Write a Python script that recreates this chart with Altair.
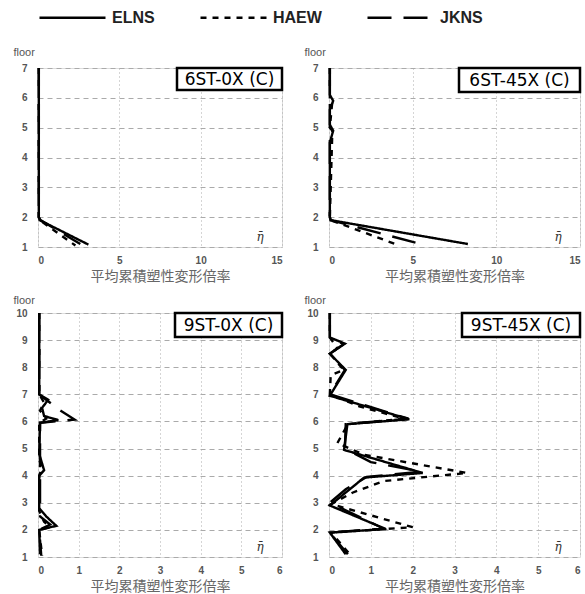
import altair as alt
import pandas as pd

series = ["ELNS", "HAEW", "JKNS"]
dashes = [[1, 0], [6, 6], [24, 12]]
xtitle = "平均累積塑性変形倍率"

# ---- panel 1: 6ST-0X (C)
p1_ELNS_y = [7, 2, 1.9, 1.08]
p1_ELNS_x = [0.05, 0.05, 0.1, 3.1]
p1_HAEW_y = [7, 2, 1.9, 1.05]
p1_HAEW_x = [0.05, 0.05, 0.1, 2.3]
p1_JKNS_y = [7, 2, 1.9, 1.1]
p1_JKNS_x = [0.05, 0.05, 0.15, 2.6]

# ---- panel 2: 6ST-45X (C)
p2_ELNS_y = [7, 6.1, 5.9, 5.6, 5.1, 4.9, 4.5, 2, 1.9, 1.1]
p2_ELNS_x = [0.05, 0.05, 0.25, 0.05, 0.05, 0.25, 0.05, 0.05, 0.1, 8.3]
p2_HAEW_y = [7, 6, 5.9, 5, 4.9, 2, 1.9, 1.05]
p2_HAEW_x = [0.05, 0.05, 0.2, 0.05, 0.2, 0.05, 0.1, 4.2]
p2_JKNS_y = [7, 2, 1.9, 1.05]
p2_JKNS_x = [0.05, 0.05, 0.1, 5.8]

# ---- panel 3: 9ST-0X (C)
p3_ELNS_y = [10, 7.0, 6.8, 6.5, 6.2, 6.05, 5.95, 4.8, 4.2, 4.0, 2.8, 2.5, 2.15, 2.0, 1.1]
p3_ELNS_x = [0.03, 0.03, 0.25, 0.1, 0.15, 0.5, 0.05, 0.03, 0.15, 0.03, 0.03, 0.2, 0.45, 0.03, 0.05]
p3_HAEW_y = [10, 7.0, 6.7, 6.4, 6.1, 5.95, 4.6, 4.3, 4.0, 2.7, 2.3, 2.1, 2.0, 1.05]
p3_HAEW_x = [0.03, 0.03, 0.15, 0.05, 0.2, 0.03, 0.03, 0.1, 0.03, 0.03, 0.15, 0.3, 0.03, 0.1]
p3_JKNS_y = [10, 7.0, 6.8, 6.4, 6.07, 5.95, 2.5, 2.2, 2.0, 1.05]
p3_JKNS_x = [0.03, 0.03, 0.2, 0.55, 0.9, 0.05, 0.05, 0.3, 0.03, 0.08]

# ---- panel 4: 9ST-45X (C)
p4_ELNS_y = [10, 9.1, 8.87, 8.5, 7.9, 6.95, 6.08, 5.9, 4.95, 4.1, 3.93, 2.9, 2.03, 1.9, 1.1]
p4_ELNS_x = [0.02, 0.02, 0.38, 0.02, 0.4, 0.02, 1.92, 0.44, 0.36, 2.24, 0.84, 0.02, 1.36, 0.02, 0.4]
p4_HAEW_y = [10, 9.1, 8.7, 8.5, 7.9, 7.7, 7.0, 6.56, 6.1, 5.9, 5.2, 4.77, 4.1, 3.8, 3.37, 2.95, 2.1, 1.9, 1.1]
p4_HAEW_x = [0.02, 0.02, 0.2, 0.02, 0.35, 0.04, 0.02, 0.72, 1.8, 0.45, 0.2, 0.84, 3.3, 1.3, 0.56, 0.05, 2.0, 0.05, 0.5]
p4_JKNS_y = [10, 9.1, 8.85, 8.5, 7.9, 7.0, 6.1, 5.9, 5.0, 4.5, 4.15, 3.95, 3.5, 3.0, 2.5, 2.05, 1.9, 1.1]
p4_JKNS_x = [0.02, 0.02, 0.35, 0.02, 0.38, 0.02, 1.9, 0.4, 0.38, 1.0, 2.2, 0.9, 0.4, 0.02, 0.7, 1.3, 0.02, 0.45]

panels = [
    ("6ST-0X (C)", {"ELNS": (p1_ELNS_x, p1_ELNS_y), "HAEW": (p1_HAEW_x, p1_HAEW_y), "JKNS": (p1_JKNS_x, p1_JKNS_y)}),
    ("6ST-45X (C)", {"ELNS": (p2_ELNS_x, p2_ELNS_y), "HAEW": (p2_HAEW_x, p2_HAEW_y), "JKNS": (p2_JKNS_x, p2_JKNS_y)}),
    ("9ST-0X (C)", {"ELNS": (p3_ELNS_x, p3_ELNS_y), "HAEW": (p3_HAEW_x, p3_HAEW_y), "JKNS": (p3_JKNS_x, p3_JKNS_y)}),
    ("9ST-45X (C)", {"ELNS": (p4_ELNS_x, p4_ELNS_y), "HAEW": (p4_HAEW_x, p4_HAEW_y), "JKNS": (p4_JKNS_x, p4_JKNS_y)}),
]

rows = []
for name, d in panels:
    for s in series:
        xs, ys = d[s]
        for i, (xv, yv) in enumerate(zip(xs, ys)):
            rows.append({"panel": name, "series": s, "x": xv, "y": yv, "idx": i})
df = pd.DataFrame(rows)

legend = alt.Legend(orient="none", legendX=0, legendY=-85, direction="horizontal", title=None,
                    symbolType="M-1,0H1", symbolSize=4356, symbolStrokeWidth=2.5,
                    symbolStrokeColor="black", labelFont="Liberation Sans", labelFontSize=16,
                    labelFontWeight="bold", labelColor="#222222", labelOffset=5,
                    columnPadding=40, padding=0, columns=3)


def panel(name, xmax, xticks, ymax, w, h, bw, bh, ytitle_y):
    sub = df[df.panel == name]
    lines = alt.Chart(sub).mark_line(color="black", strokeWidth=2.4).encode(
        x=alt.X("x:Q", scale=alt.Scale(domain=[0, xmax], nice=False, zero=False),
                axis=alt.Axis(values=xticks, title=xtitle, grid=True, gridDash=[1, 3],
                              gridColor="#aaaaaa", ticks=False, domain=False, labelPadding=8,
                              labelFontSize=10, labelColor="#555555", labelFontWeight="bold",
                              labelFont="Liberation Sans", titleFont="Noto Sans CJK JP",
                              titleFontSize=14, titleFontWeight="normal", titleColor="#666666",
                              titlePadding=4, titleBaseline="top")),
        y=alt.Y("y:Q", scale=alt.Scale(domain=[1, ymax], nice=False, zero=False),
                axis=alt.Axis(values=list(range(1, ymax + 1)), title="floor", grid=True,
                              gridDash=[5, 4], gridColor="#aaaaaa", ticks=False, domain=False,
                              labelPadding=11, labelFontSize=10, labelColor="#555555",
                              labelFontWeight="bold", labelFont="Liberation Sans",
                              titleAngle=0, titleAlign="left", titleBaseline="middle",
                              titleX=-25, titleY=ytitle_y, titleFontSize=11,
                              titleFontWeight="normal", titleColor="#555555",
                              titleFont="Liberation Sans")),
        strokeDash=alt.StrokeDash("series:N", scale=alt.Scale(domain=series, range=dashes),
                                  legend=legend),
        order=alt.Order("idx:Q"),
    )
    lab = pd.DataFrame({"label": [name], "eta": ["η̄"]})
    box = alt.Chart(lab).mark_rect(fill="white", stroke="black", strokeWidth=2.5).encode(
        x=alt.value(w - bw), x2=alt.value(w), y=alt.value(0), y2=alt.value(bh))
    txt = alt.Chart(lab).mark_text(font="DejaVu Sans", fontSize=17, color="black",
                                   baseline="middle", align="center").encode(
        text="label:N", x=alt.value(w - bw / 2), y=alt.value(bh / 2 + 1))
    eta = alt.Chart(lab).mark_text(font="DejaVu Serif", fontSize=12, fontStyle="italic",
                                   color="#333333", baseline="middle", align="center").encode(
        text="eta:N", x=alt.value(w - 22), y=alt.value(h - 10))
    return alt.layer(lines, box, txt, eta).properties(width=w, height=h)


c1 = panel("6ST-0X (C)", 15, [0, 5, 10, 15], 7, 244, 179, 105, 22, -16)
c2 = panel("6ST-45X (C)", 15, [0, 5, 10, 15], 7, 251, 179, 121, 24, -16)
c3 = panel("9ST-0X (C)", 6, [0, 1, 2, 3, 4, 5, 6], 10, 244, 244, 107, 24, -13)
c4 = panel("9ST-45X (C)", 6, [0, 1, 2, 3, 4, 5, 6], 10, 251, 244, 118, 24, -13)

chart = alt.concat(c1, c2, c3, c4, columns=2, spacing={"row": 66, "column": 47},
                   bounds="flush").resolve_scale(
    x="independent", y="independent", strokeDash="shared"
).resolve_legend(strokeDash="shared").properties(
    padding={"left": 12, "top": -17, "right": 0, "bottom": 0}
).configure_view(stroke="#888888", strokeWidth=1.5).configure(background="white")

chart.save("out.html", embed_options={"renderer": "svg", "actions": False})
